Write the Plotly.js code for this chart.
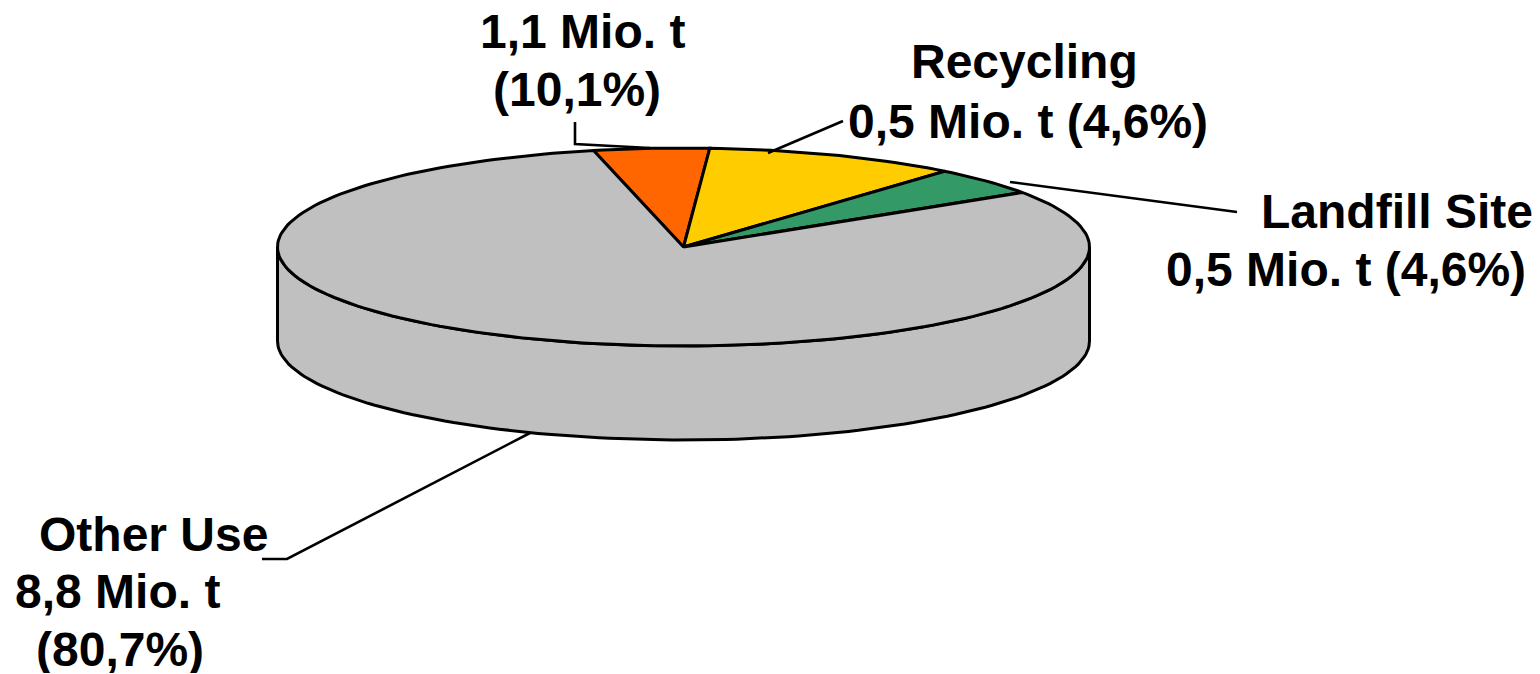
<!DOCTYPE html>
<html>
<head>
<meta charset="utf-8">
<script src="https://cdn.plot.ly/plotly-3.0.1.min.js"></script>
<style>html,body{margin:0;padding:0;background:#fff}#c{width:1540px;height:674px}</style>
</head>
<body>
<div id="c"></div>
<script>
// Chart data: drawn order runs clockwise from the orange wedge
var categories = ["Orange", "Recycling", "Landfill", "Other Use"];
var tonnes = [0.5, 1.1, 0.5, 8.8];
var colors = ["#FF6600", "#FFCC00", "#339966", "#C0C0C0"];
var startAngleDeg = -12.8;

var labelLines = ["1,1 Mio. t", "(10,1%)", "Recycling", "0,5 Mio. t (4,6%)", "Landfill Site", "0,5 Mio. t (4,6%)", "Other Use", "8,8 Mio. t", "(80,7%)"];
var labelX = [582, 577, 1024, 1028, 1397, 1346, 153, 117, 120];
var labelY = [31, 89, 61, 121, 211, 269, 534, 591, 649];

// Projection of the tilted disc onto the page
var cx = 683.5, cy = 247, rx = 406, ry = 99, depth = 94;
var stroke = "#000000";

function pt(deg, dy) {
  var a = deg * Math.PI / 180;
  return [cx + rx * Math.sin(a), cy - ry * Math.cos(a) + (dy || 0)];
}
function arc(a0, a1, dy) {
  var n = Math.max(2, Math.ceil(Math.abs(a1 - a0) / 1.5)), out = [];
  for (var i = 0; i <= n; i++) out.push(pt(a0 + (a1 - a0) * i / n, dy));
  return out;
}
function poly(points, fill) {
  return {
    type: "scatter", mode: "lines", hoverinfo: "skip", showlegend: false,
    x: points.map(function (p) { return p[0]; }),
    y: points.map(function (p) { return p[1]; }),
    fill: "toself", fillcolor: fill,
    line: { color: stroke, width: 3 }
  };
}
function line(points) {
  return {
    type: "scatter", mode: "lines", hoverinfo: "skip", showlegend: false,
    x: points.map(function (p) { return p[0]; }),
    y: points.map(function (p) { return p[1]; }),
    line: { color: stroke, width: 2.6 }
  };
}

var total = tonnes.reduce(function (s, v) { return s + v; }, 0);
var traces = [];

// Visible wall of the disc
var wall = arc(90, 270, 0).concat(arc(270, 90, depth));
wall.push(wall[0]);
traces.push(poly(wall, colors[3]));

// Top-face wedges
var ang = startAngleDeg;
tonnes.forEach(function (v, i) {
  var next = ang + v / total * 360;
  var pts = [[cx, cy]].concat(arc(ang, next, 0));
  pts.push([cx, cy]);
  traces.push(poly(pts, colors[i]));
  ang = next;
});

// Leader lines
var leaders = [
  [[575, 122], [575, 144], [650, 148]],
  [[843, 121], [768, 153]],
  [[1237, 212], [1010, 182]],
  [[530, 433], [287, 559], [262, 559]]
];
leaders.forEach(function (l) { traces.push(line(l)); });

var annotations = labelLines.map(function (t, i) {
  var a = {
    xref: "x", yref: "y", x: labelX[i], y: labelY[i],
    text: "<b>" + t + "</b>", showarrow: false, align: "center",
    font: { family: "Liberation Sans, Arial, sans-serif", size: 48, color: "#000" },
    xanchor: "center", yanchor: "middle", valign: "middle"
  };
  // The bottom line sits at the page edge, so its box is kept inside the page
  if (i === labelLines.length - 1) a.height = 48;
  return a;
});

var axis = { visible: false, fixedrange: true, showgrid: false, zeroline: false };
Plotly.newPlot("c", traces, {
  width: 1540, height: 674,
  margin: { l: 0, r: 0, t: 0, b: 0 },
  paper_bgcolor: "#fff", plot_bgcolor: "#fff", showlegend: false,
  xaxis: Object.assign({ range: [0, 1540] }, axis),
  yaxis: Object.assign({ range: [674, 0] }, axis),
  annotations: annotations
}, { displayModeBar: false, staticPlot: true });
</script>
</body>
</html>
